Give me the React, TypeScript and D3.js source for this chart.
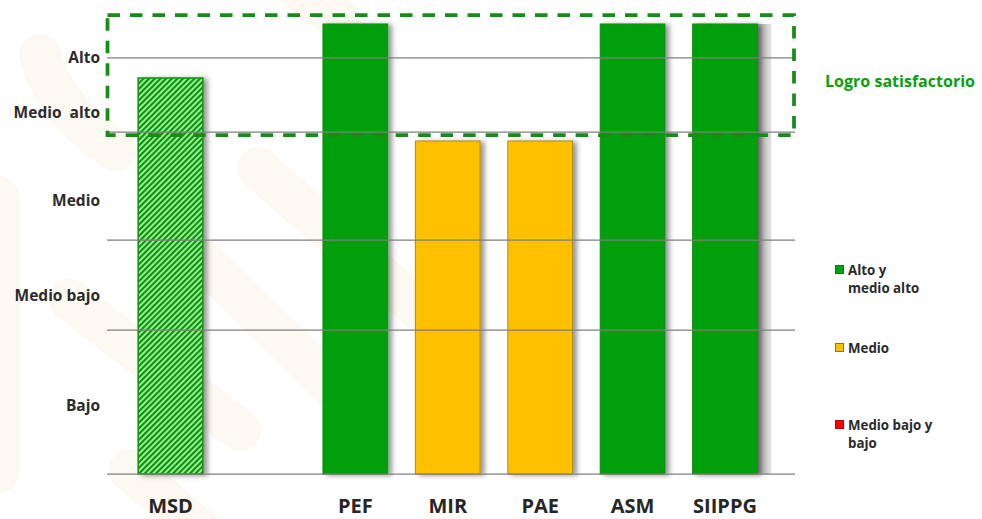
import React from "react";
import * as d3 from "d3";

// ---- data ----
const categories = ["MSD", "", "PEF", "MIR", "PAE", "ASM", "SIIPPG"];
const values: (number | null)[] = [88, null, 100, 74, 74, 100, 100];
const barKinds = ["hatch", "", "alto", "medio", "medio", "alto", "alto"];
const gridValues = [0, 32, 52, 76, 92.5];
const levelLabels = ["Alto", "Medio  alto", "Medio", "Medio bajo", "Bajo"];
const levelLabelValues = [92.6, 80.3, 60.8, 39.7, 15.2];
const satisfactoryBand = [75.3, 102];
const satisfactoryLabel = "Logro satisfactorio";
const legendLines = [["Alto y", "medio alto"], ["Medio"], ["Medio bajo y", "bajo"]];
const legendFills = ["#05a011", "#ffc000", "#ff0000"];
const legendStrokes = ["#0a7a0a", "#9a7414", "#c00000"];

const W = 982;
const H = 519;
const FONT = "'Open Sans', 'DejaVu Sans', sans-serif";

export default function App() {
  const x = d3
    .scaleBand<number>()
    .domain(categories.map((_, i) => i))
    .range([124.3, 771.2])
    .paddingInner(0.3)
    .paddingOuter(0.15);
  const y = d3.scaleLinear().domain([0, 100]).range([474, 24]);
  const bw = x.bandwidth();

  const fillFor = (k: string) =>
    k === "hatch" ? "url(#hatch)" : k === "alto" ? "#05a011" : "#ffc000";
  const strokeFor = (k: string) =>
    k === "hatch" ? "#0b960b" : k === "alto" ? "#0a8a0a" : "#b08a1a";

  const wm = [
    "M 40 55 Q 55 110 115 150",
    "M -5 200 L -5 470",
    "M 258 168 L 420 310",
    "M 205 262 L 345 400",
    "M 70 300 L 240 430",
    "M 130 470 L 200 530",
    "M 300 -10 L 340 20",
  ];

  const sx = x(6)! + bw;

  return (
    <div style={{ position: "absolute", left: 0, top: 0 }}>
      <svg width={W} height={H} style={{ display: "block", background: "#fff" }}>
        <defs>
          <pattern
            id="hatch"
            patternUnits="userSpaceOnUse"
            width={4}
            height={4}
            patternTransform="rotate(45)"
          >
            <rect x={0} y={0} width={4} height={4} fill="#a8f5a2" />
            <rect x={0} y={0} width={2.2} height={4} fill="#07920a" />
          </pattern>
          <filter id="sh" x="-20%" y="-5%" width="150%" height="110%">
            <feDropShadow dx={4} dy={1} stdDeviation={2.5} floodColor="#000" floodOpacity={0.4} />
          </filter>
          <linearGradient id="strip" x1="0" x2="1" y1="0" y2="0">
            <stop offset="0" stopColor="#a9a9a9" />
            <stop offset="1" stopColor="#e2e2e2" />
          </linearGradient>
        </defs>

        {/* watermark */}
        <g fill="none" stroke="#fcf9f2" strokeLinecap="round">
          {wm.map((d, i) => (
            <path key={i} d={d} strokeWidth={i === 1 ? 50 : 42} />
          ))}
        </g>

        {/* extra shadow strip */}
        <rect x={sx} y={y(100)} width={14} height={y(0) - y(100)} fill="url(#strip)" />

        {/* bars */}
        <g>
          {categories.map((c, i) =>
            values[i] == null ? null : (
              <rect
                key={i}
                x={x(i)!}
                y={y(values[i] as number)}
                width={bw}
                height={y(0) - y(values[i] as number)}
                fill={fillFor(barKinds[i])}
                stroke={strokeFor(barKinds[i])}
                strokeWidth={barKinds[i] === "hatch" ? 1.5 : 1}
                filter="url(#sh)"
              />
            )
          )}
        </g>

        {/* gridlines */}
        <g stroke="#7f7f7f" strokeWidth={1.25}>
          {gridValues.map((v, i) => (
            <line key={i} x1={107} x2={795} y1={y(v)} y2={y(v)} />
          ))}
        </g>

        {/* satisfactory dashed box */}
        <rect
          x={107.5}
          y={y(satisfactoryBand[1])}
          width={794 - 107.5}
          height={y(satisfactoryBand[0]) - y(satisfactoryBand[1])}
          fill="none"
          stroke="#178c17"
          strokeWidth={3.75}
          strokeDasharray="12.5 10"
        />
        <text
          x={825}
          y={87}
          fontFamily={FONT}
          fontWeight={700}
          fontSize={16}
          fill="#0aa00a"
          textLength={150}
          lengthAdjust="spacingAndGlyphs"
        >
          {satisfactoryLabel}
        </text>

        {/* level labels */}
        <g fontFamily={FONT} fontWeight={700} fontSize={15.5} fill="#2b2b2b" textAnchor="end">
          {levelLabels.map((t, i) => (
            <text key={i} x={100} y={y(levelLabelValues[i])} dy="0.36em" style={{ whiteSpace: "pre" }}>
              {t}
            </text>
          ))}
        </g>

        {/* category labels */}
        <g fontFamily={FONT} fontWeight={700} fontSize={20} fill="#262626" textAnchor="middle">
          {categories.map((c, i) =>
            c ? (
              <text key={i} x={x(i)! + bw / 2} y={513}>
                {c}
              </text>
            ) : null
          )}
        </g>

        {/* legend */}
        <g fontFamily={FONT} fontWeight={700} fontSize={13.3} fill="#2b2b2b">
          {legendLines.map((lines, i) => {
            const top = [265, 343, 420][i];
            return (
              <g key={i}>
                <rect
                  x={835.5}
                  y={top + 0.5}
                  width={8}
                  height={8}
                  fill={legendFills[i]}
                  stroke={legendStrokes[i]}
                  strokeWidth={1}
                />
                {lines.map((l, j) => (
                  <text key={j} x={848} y={top + 9.5 + j * 18}>
                    {l}
                  </text>
                ))}
              </g>
            );
          })}
        </g>
      </svg>
    </div>
  );
}
